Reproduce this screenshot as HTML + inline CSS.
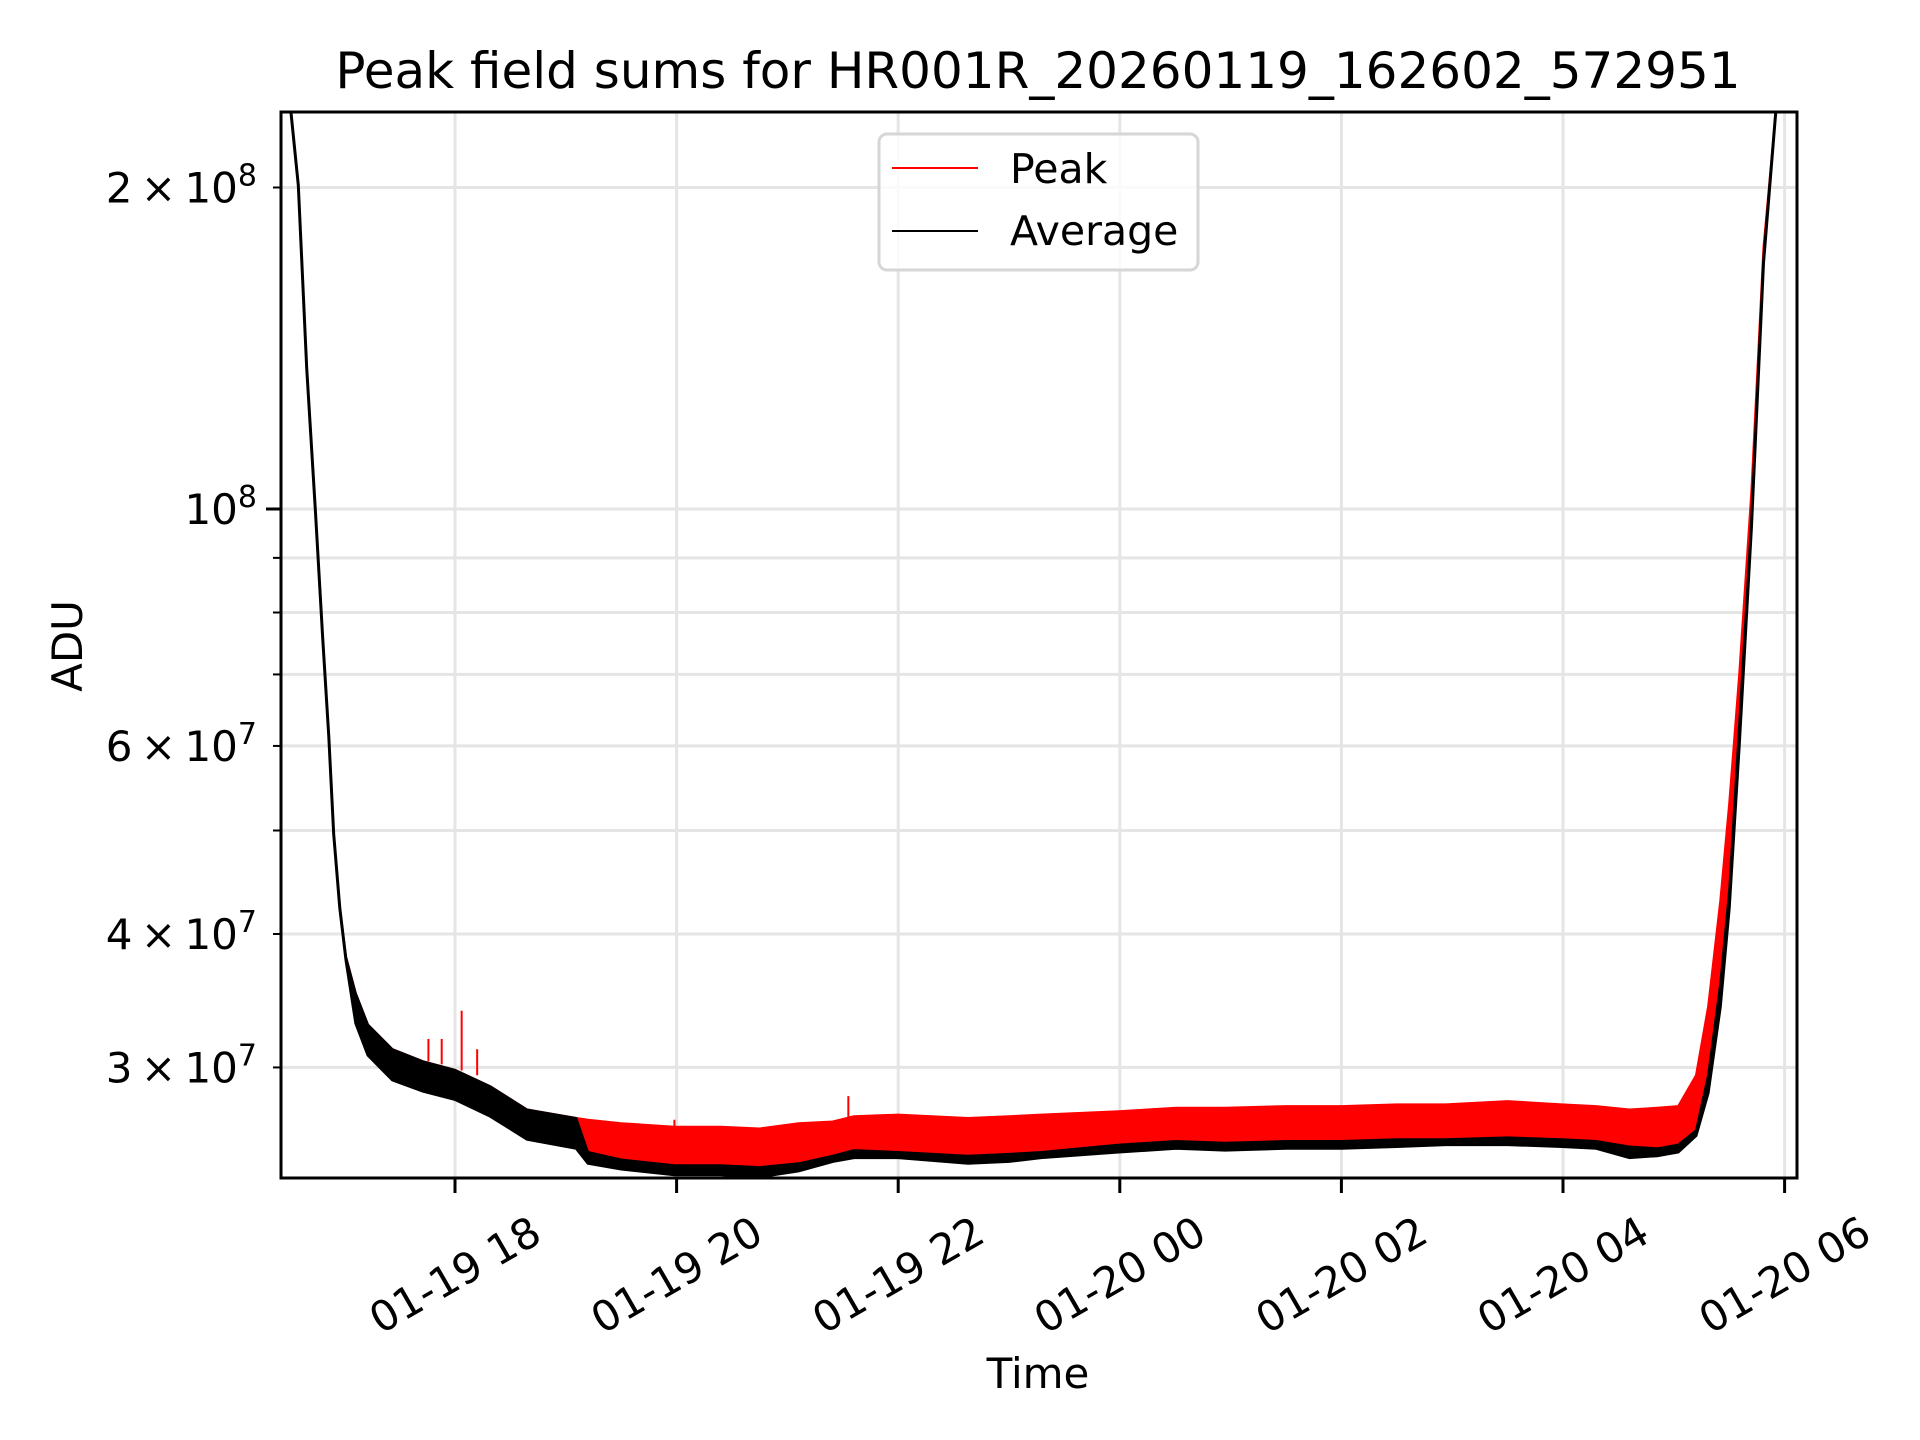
<!DOCTYPE html>
<html><head><meta charset="utf-8"><style>
html,body{margin:0;padding:0;background:#fff;}
svg{display:block;font-family:"DejaVu Sans","Liberation Sans",sans-serif;}
</style></head><body>
<svg id="chart" width="1920" height="1440" viewBox="0 0 1920 1440" xmlns="http://www.w3.org/2000/svg">
<rect width="1920" height="1440" fill="#fff"/>
<defs><clipPath id="plotclip"><rect x="281" y="112" width="1516" height="1066"/></clipPath></defs>
<g id="grid"></g>
<g id="series" clip-path="url(#plotclip)"></g>
<rect x="281" y="112" width="1516" height="1066" fill="none" stroke="#000" stroke-width="3"/>
<g id="ticks"></g>
<text x="1038" y="88" text-anchor="middle" font-size="50">Peak field sums for HR001R_20260119_162602_572951</text>
<text x="1038" y="1388" text-anchor="middle" font-size="42">Time</text>
<text x="0" y="0" transform="translate(82,646) rotate(-90)" text-anchor="middle" font-size="42">ADU</text>
<g>
<rect x="879" y="134" width="319" height="136" rx="8" fill="#fff" fill-opacity="0.8" stroke="#d6d6d6" stroke-width="3"/>
<line x1="892" y1="168" x2="978" y2="168" stroke="#f00" stroke-width="2"/>
<text x="1010" y="183" font-size="41">Peak</text>
<line x1="892" y1="231" x2="978" y2="231" stroke="#000" stroke-width="2"/>
<text x="1010" y="245" font-size="41">Average</text>
</g>
</svg>
<script>
// hours since 2026-01-19 00:00
const times = [16.43,16.52,16.586,16.662,16.74,16.806,16.861,16.905,16.96,17.016,17.105,17.215,17.436,17.712,18.0,18.32,18.65,19.095,19.2,19.5,19.98,20.4,20.75,21.1,21.41,21.6,22.0,22.63,23.0,23.29,23.99,24.51,24.95,25.5,26.0,26.5,26.94,27.5,27.99,28.3,28.6,28.85,29.04,29.2,29.31,29.42,29.5,29.59,29.7,29.81,29.92,29.99];
// values in units of 1e7 ADU
const peakTop = [25,23.5,20.1,13.55,9.96,7.57,6.12,4.96,4.23,3.81,3.52,3.29,3.12,3.04,2.985,2.88,2.74,2.69,2.68,2.66,2.64,2.64,2.63,2.66,2.67,2.70,2.71,2.69,2.70,2.71,2.73,2.75,2.75,2.76,2.76,2.77,2.77,2.79,2.77,2.76,2.74,2.75,2.76,2.95,3.42,4.3,5.3,7.0,10.4,17.6,23.5,25];
const avgTop = [25,23.5,20.1,13.55,9.96,7.57,6.12,4.96,4.23,3.81,3.52,3.29,3.12,3.04,2.985,2.88,2.74,2.69,2.50,2.46,2.43,2.43,2.42,2.44,2.48,2.51,2.50,2.48,2.49,2.50,2.54,2.56,2.55,2.56,2.56,2.57,2.57,2.58,2.57,2.56,2.53,2.52,2.54,2.62,2.95,3.6,4.4,6.3,9.8,17.2,23.5,25];
const avgBase = [25,23.5,20.1,13.55,9.96,7.57,6.12,4.96,4.23,3.78,3.30,3.08,2.92,2.85,2.80,2.70,2.57,2.52,2.44,2.41,2.38,2.38,2.37,2.40,2.45,2.47,2.47,2.44,2.45,2.47,2.50,2.52,2.51,2.52,2.52,2.53,2.54,2.54,2.53,2.52,2.47,2.48,2.50,2.59,2.84,3.42,4.23,6.0,9.6,17.0,23.5,25];
const spikeTimes = [17.76,17.88,18.06,18.2,19.98,21.55];
const spikeValues = [3.19,3.19,3.39,3.12,2.68,2.82];
const spikeBases = [3.04,3.02,2.98,2.95,2.62,2.68];
const xTickHours = [18,20,22,24,26,28,30];
const xTickLabels = ["01-19 18","01-19 20","01-19 22","01-20 00","01-20 02","01-20 04","01-20 06"];
const yMinorValues = [3,4,5,6,7,8,9,20];
const yLabelValues = [3,4,6,10,20];
const yLabelMant = ["3","4","6","","2"];
const yLabelExp = ["7","7","7","8","8"];

const NS="http://www.w3.org/2000/svg";
const X0=281,X1=1797,Y0=112,Y1=1178;
const xs = h => 455 + (h-18)*110.8;
const ys = v => 509 - 1068*Math.log10(v/10);
function mk(tag, attrs, parent){const e=document.createElementNS(NS,tag);for(const k in attrs)e.setAttribute(k,attrs[k]);parent.appendChild(e);return e;}
const gridG=document.getElementById('grid'), seriesG=document.getElementById('series'), ticksG=document.getElementById('ticks');

xTickHours.forEach((h,i)=>{
  const x=xs(h);
  const g=mk('line',{x1:x,x2:x,y1:Y0,y2:Y1,stroke:'#e5e5e5','stroke-width':3},gridG);
  
  
  const t=mk('line',{x1:x,x2:x,y1:Y1,y2:Y1+15,stroke:'#000','stroke-width':3},ticksG);
  
  
  const lab=mk('text',{x:0,y:0,'text-anchor':'middle','dominant-baseline':'central','font-size':42,transform:`translate(${x},1275) rotate(-30)`},ticksG);
  lab.textContent=xTickLabels[i];
  
  
});
[10].concat(yMinorValues).forEach(v=>{
  const y=ys(v);
  const g=mk('line',{x1:X0,x2:X1,y1:y,y2:y,stroke:'#e5e5e5','stroke-width':3},gridG);
  
  
  const major=(v===10);
  const t=mk('line',{x1:X0-(major?15:8),x2:X0,y1:y,y2:y,stroke:'#000','stroke-width':major?3:2},ticksG);
  
  
});
yLabelValues.forEach((v,i)=>{
  const y=ys(v);
  const lab=mk('text',{x:257,y:y+15,'text-anchor':'end','font-size':42},ticksG);
  
  
  const base=(yLabelMant[i]?yLabelMant[i]+'\u2009\u00d7\u200910':'10');
  const s1=mk('tspan',{},lab); s1.textContent=base;
  const s2=mk('tspan',{dy:-17,'font-size':30},lab); s2.textContent=yLabelExp[i];
});

function pts(arr){return times.map((t,i)=>xs(t).toFixed(1)+','+ys(arr[i]).toFixed(1));}
const topPts=pts(peakTop), atPts=pts(avgTop), abPts=pts(avgBase);
const red=mk('polygon',{points:topPts.concat(abPts.slice().reverse()).join(' '),fill:'#ff0000',stroke:'#ff0000','stroke-width':2},seriesG);


const blk=mk('polygon',{points:atPts.concat(abPts.slice().reverse()).join(' '),fill:'#000',stroke:'#000','stroke-width':2},seriesG);


const bl=mk('polyline',{points:abPts.join(' '),fill:'none',stroke:'#000','stroke-width':3},seriesG);


spikeTimes.forEach((t,i)=>{
  const x=xs(t);
  const s=mk('line',{x1:x,x2:x,y1:ys(spikeValues[i]),y2:ys(spikeBases[i]),stroke:'#ff0000','stroke-width':2},seriesG);
  
  
});
</script>
</body></html>
